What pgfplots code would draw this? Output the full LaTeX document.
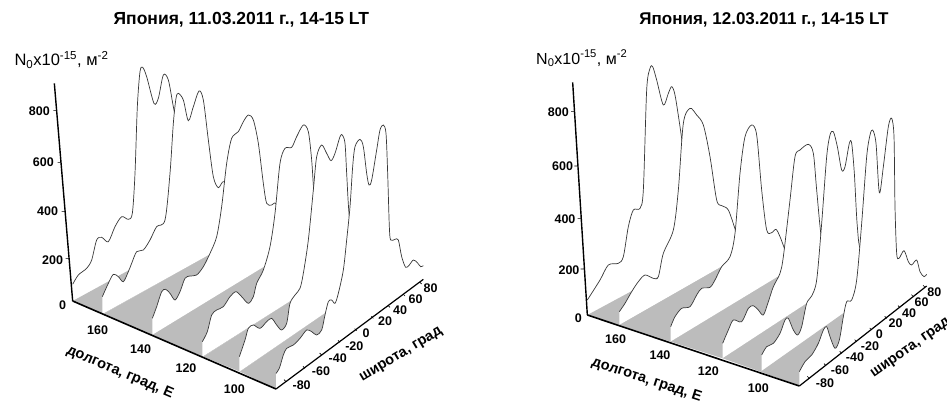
\documentclass[border=0pt]{standalone}
\usepackage{pgfplots}
\usepackage{pgfplotstable}
\usepackage{fontspec}
\setmainfont{Liberation Sans}
\pgfplotsset{compat=1.18}
\definecolor{floorgrey}{RGB}{188,188,188}
\definecolor{curvecol}{RGB}{55,55,55}
% ---- left panel (11.03.2011): screen positions of the profiles
\pgfplotstableread{
x y
828 1000
838 985
850 945
860 925
880 915
900 895
920 870
935 875
950 885
965 870
975 825
985 785
995 780
1005 790
1015 760
1030 690
1040 600
1050 500
1058 380
1065 320
1080 298
1090 320
1100 400
1107 435
1115 420
1130 330
1140 270
1150 255
1158 280
1163 400
1168 560
1172 600
1185 598
1195 600
1205 650
1217 682
1228 675
1240 660
1252 668
1262 680
1270 677
}\la
\pgfplotstableread{
x y
718 950
735 900
745 865
760 855
780 865
800 845
815 835
830 855
845 870
860 850
870 790
885 765
900 745
910 700
925 600
940 450
950 350
965 315
980 340
993 362
1005 340
1020 290
1027 285
1035 310
1040 400
1047 520
1060 620
1100 680
1145 703
}\lb
\pgfplotstableread{
x y
607 905
622 875
635 825
650 810
670 800
690 770
708 755
725 770
745 790
760 770
770 730
790 690
810 620
825 520
840 370
855 325
875 322
890 290
910 255
925 275
935 360
942 460
955 570
985 650
1015 692
}\lc
\pgfplotstableread{
x y
457 835
470 800
485 755
497 748
510 760
525 780
540 755
555 715
570 708
590 705
610 680
630 640
650 590
665 500
680 370
695 295
715 275
730 245
745 225
760 240
775 310
790 430
800 490
815 495
827 490
840 530
850 600
842 650
}\ld
\pgfplotstableread{
x y
307 770
325 730
340 703
355 710
370 725
385 695
395 670
410 635
430 630
450 600
470 560
495 540
510 400
520 250
528 175
535 160
550 180
565 242
580 200
597 153
610 180
625 300
640 410
655 443
672 425
695 480
705 560
675 618
}\le
\pgfplotstableread{
x y
218 733
235 705
260 685
275 660
290 600
305 592
325 605
345 560
365 530
385 538
397 520
405 400
412 200
420 95
428 82
440 110
462 190
475 175
490 105
505 120
520 200
540 300
560 420
563 594
}\lf
% ---- right panel (12.03.2011)
\pgfplotstableread{
x y
898 995
915 965
935 945
955 910
970 870
980 860
990 890
1005 925
1018 900
1030 830
1040 785
1055 780
1070 720
1085 550
1100 350
1110 285
1118 270
1128 310
1138 458
1150 380
1165 260
1175 235
1182 290
1185 500
1190 640
1197 655
1212 632
1225 665
1235 675
1250 660
1260 695
1272 710
1280 703
}\ra
\pgfplotstableread{
x y
785 945
800 920
820 910
840 880
855 840
865 835
880 870
893 885
905 860
920 790
935 768
950 720
965 550
980 350
990 285
1000 275
1012 320
1025 390
1035 380
1048 310
1055 310
1063 400
1072 560
1085 640
1147 737
}\rb
\pgfplotstableread{
x y
668 910
685 870
700 840
725 845
745 805
760 797
775 810
790 825
805 785
820 740
840 700
850 650
870 480
885 350
900 330
925 313
940 340
950 450
965 600
985 660
1018 726
}\rc
\pgfplotstableread{
x y
512 860
525 830
545 805
570 800
590 765
605 745
630 742
645 720
665 680
690 650
705 580
720 400
735 290
755 255
770 285
785 450
800 570
815 578
828 568
840 590
855 630
870 670
847 702
}\rd
\pgfplotstableread{
x y
358 815
375 790
395 755
415 725
435 705
460 715
475 710
490 640
520 570
535 450
550 250
570 205
590 225
610 255
630 350
650 480
665 497
685 510
708 575
725 620
730 660
673 675
}\re
\pgfplotstableread{
x y
262 780
300 720
325 675
355 670
370 650
385 560
400 510
420 505
430 450
440 150
450 85
458 80
470 120
490 195
505 160
515 140
525 165
540 260
548 320
570 500
557 666
}\rf
% wall: table, far base point, near base point
\newcommand\wall[3]{%
  \addplot[fill=white,draw=none,smooth,forget plot] table[x=x,y=y] {#1} -- (axis cs:#2) -- (axis cs:#3) -- cycle;
  \addplot[curvecol,line width=0.7pt,smooth,forget plot] table[x=x,y=y] {#1};
}
% floor: near base of back wall, far of it, far of next, near of next
\newcommand\floorpiece[4]{%
  \addplot[fill=floorgrey,draw=none,forget plot] coordinates {(#1) (#2) (#3) (#4)} -- cycle;
}
\newcommand\axline[3]{\addplot[black,line width=#1,forget plot] coordinates {(#2) (#3)};}
\pgfplotsset{panel/.style={hide axis,scale only axis,height=403pt,ymin=-120,ymax=1089,y dir=reverse,clip=false,
  every node/.append style={inner sep=0pt}}}
\tikzset{tl/.style={font=\fontsize{12.5}{13}\selectfont\bfseries},
  ttl/.style={font=\fontsize{17}{18}\selectfont\bfseries},
  atl/.style={font=\fontsize{14.5}{16}\selectfont\bfseries},
  nl/.style={font=\fontsize{16.5}{18}\selectfont\mdseries,anchor=west}}
\begin{document}
\begin{tikzpicture}
\path[use as bounding box] (0,0) rectangle (947pt,403pt);
\begin{axis}[panel,width=470pt,xmin=0,xmax=1410]
\wall{\lf}{563,594}{218,783}
\floorpiece{218,783}{563,594}{675,618}{310,822}
\wall{\le}{675,618}{307,822}
\floorpiece{310,822}{675,618}{842,650}{457,885}
\wall{\ld}{842,650}{457,885}
\floorpiece{457,885}{842,650}{1015,692}{610,950}
\wall{\lc}{1015,692}{607,950}
\floorpiece{610,950}{1015,692}{1145,703}{720,995}
\wall{\lb}{1145,703}{718,995}
\floorpiece{720,995}{1145,703}{1270,718}{828,1047}
\wall{\la}{1270,718}{828,1047}
\axline{1.4pt}{218,783}{163,130}
\axline{1.6pt}{218,783}{828,1047}
\axline{1.2pt}{828,1047}{1270,718}
\addplot[black,line width=0.6pt,forget plot,unbounded coords=jump] coordinates {
(170,212)(160,212) (nan,nan) (183,367)(173,367) (nan,nan) (195,515)(185,515) (nan,nan) (207,655)(197,655) (nan,nan)
(858,1025)(852,1019) (nan,nan) (915,985)(909,979) (nan,nan) (965,945)(959,939) (nan,nan) (1020,907)(1014,901) (nan,nan)
(1070,872)(1064,866) (nan,nan) (1120,835)(1114,829) (nan,nan) (1170,802)(1164,796) (nan,nan) (1215,768)(1209,762) (nan,nan) (1265,732)(1259,726)};
\node[font=\fontsize{17.5}{18}\selectfont\bfseries] at (axis cs:724,-60) {Япония, 11.03.2011 г., 14-15 LT};
\node[nl] at (axis cs:33,60) {N\textsubscript{0}x10\textsuperscript{-15}, м\textsuperscript{-2}};
\node[tl] at (axis cs:118,215) {800};
\node[tl] at (axis cs:130,368) {600};
\node[tl] at (axis cs:143,515) {400};
\node[tl] at (axis cs:158,660) {200};
\node[tl] at (axis cs:188,795) {0};
\node[tl] at (axis cs:293,870) {160};
\node[tl] at (axis cs:422,927) {140};
\node[tl] at (axis cs:558,985) {120};
\node[tl] at (axis cs:703,1048) {100};
\node[tl] at (axis cs:905,1037) {-80};
\node[tl] at (axis cs:963,995) {-60};
\node[tl] at (axis cs:1013,955) {-40};
\node[tl] at (axis cs:1063,918) {-20};
\node[tl] at (axis cs:1098,880) {0};
\node[tl] at (axis cs:1155,845) {20};
\node[tl] at (axis cs:1200,810) {40};
\node[tl] at (axis cs:1247,778) {60};
\node[tl] at (axis cs:1292,745) {80};
\node[atl,rotate=-23] at (axis cs:360,997) {долгота, град, Е};
\node[atl,rotate=31] at (axis cs:1204,946) {широта, град};
\end{axis}
\begin{axis}[panel,at={(500pt,0pt)},width=447pt,xmin=0,xmax=1341]
\wall{\rf}{557,666}{262,825}
\floorpiece{262,825}{557,666}{673,675}{358,855}
\wall{\re}{673,675}{358,855}
\floorpiece{358,855}{673,675}{847,702}{512,905}
\wall{\rd}{847,702}{512,905}
\floorpiece{512,905}{847,702}{1018,726}{668,955}
\wall{\rc}{1018,726}{668,955}
\floorpiece{668,955}{1018,726}{1147,737}{782,995}
\wall{\rb}{1147,737}{785,995}
\floorpiece{782,995}{1147,737}{1280,738}{898,1038}
\wall{\ra}{1280,738}{898,1038}
\axline{1.4pt}{262,825}{218,127}
\axline{1.6pt}{262,825}{898,1038}
\axline{1.2pt}{898,1038}{1280,738}
\addplot[black,line width=0.6pt,forget plot,unbounded coords=jump] coordinates {
(223,215)(213,215) (nan,nan) (233,378)(223,378) (nan,nan) (243,535)(233,535) (nan,nan) (252,687)(242,687) (nan,nan)
(928,1015)(922,1009) (nan,nan) (978,977)(972,971) (nan,nan) (1025,940)(1019,934) (nan,nan) (1070,905)(1064,899) (nan,nan)
(1115,870)(1109,864) (nan,nan) (1160,835)(1154,829) (nan,nan) (1200,803)(1194,797) (nan,nan) (1240,770)(1234,764) (nan,nan) (1275,742)(1269,736)};
\node[ttl] at (axis cs:792,-60) {Япония, 12.03.2011 г., 14-15 LT};
\node[font=\fontsize{16}{18}\selectfont\mdseries,anchor=west] at (axis cs:98,55) {N\textsubscript{0}x10\textsuperscript{-15}, м\textsuperscript{-2}};
\node[tl] at (axis cs:175,218) {800};
\node[tl] at (axis cs:188,380) {600};
\node[tl] at (axis cs:195,537) {400};
\node[tl] at (axis cs:207,690) {200};
\node[tl] at (axis cs:235,835) {0};
\node[tl] at (axis cs:347,898) {160};
\node[tl] at (axis cs:480,945) {140};
\node[tl] at (axis cs:625,995) {120};
\node[tl] at (axis cs:775,1045) {100};
\node[tl] at (axis cs:975,1030) {-80};
\node[tl] at (axis cs:1020,990) {-60};
\node[tl] at (axis cs:1065,953) {-40};
\node[tl] at (axis cs:1110,918) {-20};
\node[tl] at (axis cs:1138,882) {0};
\node[tl] at (axis cs:1187,850) {20};
\node[tl] at (axis cs:1227,820) {40};
\node[tl] at (axis cs:1265,787) {60};
\node[tl] at (axis cs:1303,757) {80};
\node[atl,rotate=-18] at (axis cs:440,1020) {долгота, град, Е};
\node[atl,rotate=35] at (axis cs:1233,925) {широта, град};
\end{axis}
\end{tikzpicture}
\end{document}
